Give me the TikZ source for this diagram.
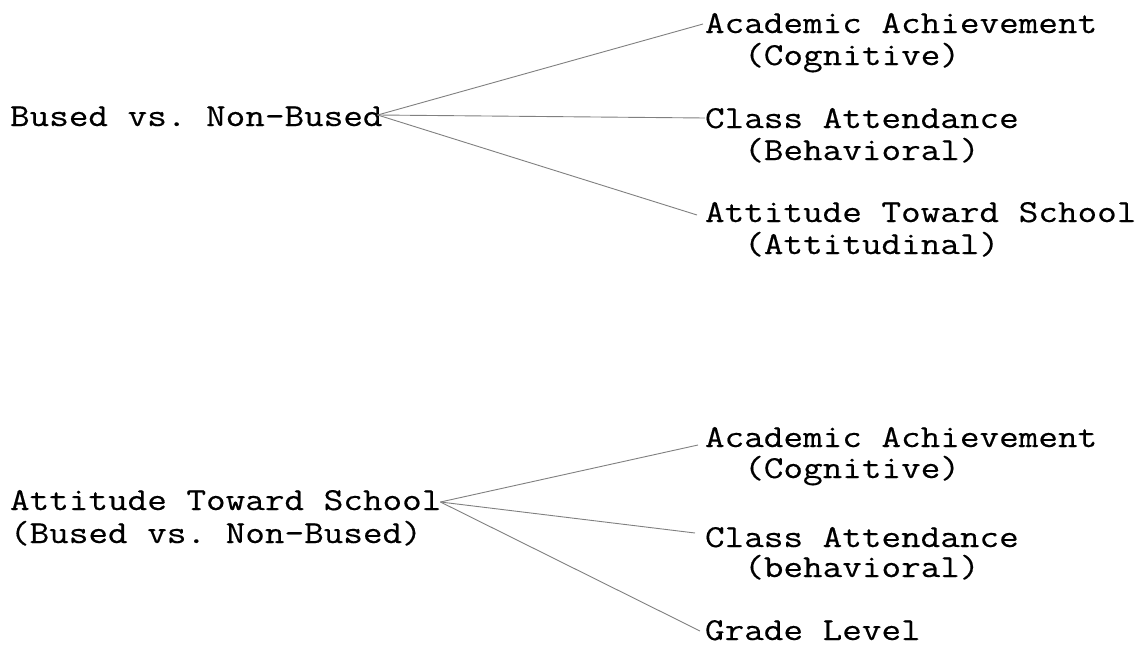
\documentclass[tikz,border=0pt]{standalone}
\usepackage{fontspec}
\setmonofont{Latin Modern Mono}[FakeStretch=1.19,FakeBold=0.4]
\begin{document}
\begin{tikzpicture}[x=0.5pt,y=-0.5pt,
  lbl/.style={anchor=base west,inner sep=0pt,outer sep=0pt,font=\fontsize{16pt}{19pt}\ttfamily},
  conn/.style={draw=black!50,line width=0.45pt}]
\useasboundingbox[fill=white] (0,0) rectangle (1136,648);
% top group
\node[lbl] (L1) at (10,126) {Bused vs. Non-Bused};
\node[lbl] (A1) at (705,33) {Academic Achievement};
\node[lbl] (A1b) at (705,65) {\ \ (Cognitive)};
\node[lbl] (C1) at (705,128) {Class Attendance};
\node[lbl] (C1b) at (705,160) {\ \ (Behavioral)};
\node[lbl] (T1) at (705,222) {Attitude Toward School};
\node[lbl] (T1b) at (705,254) {\ \ (Attitudinal)};
\draw[conn] ([shift={(-2.5pt,5.5pt)}]L1.base east) -- ([shift={(-1pt,4.5pt)}]A1.base west);
\draw[conn] ([shift={(-2.5pt,5.5pt)}]L1.base east) -- ([shift={(0pt,5pt)}]C1.base west);
\draw[conn] ([shift={(-2.5pt,5.5pt)}]L1.base east) -- ([shift={(-4pt,3.5pt)}]T1.base west);
% bottom group
\node[lbl] (L2) at (10,510) {Attitude Toward School};
\node[lbl] (L2b) at (10,543) {(Bused vs. Non-Bused)};
\node[lbl] (A2) at (705,447) {Academic Achievement};
\node[lbl] (A2b) at (705,478) {\ \ (Cognitive)};
\node[lbl] (C2) at (705,547) {Class Attendance};
\node[lbl] (C2b) at (705,577) {\ \ (behavioral)};
\node[lbl] (G2) at (705,640) {Grade Level};
\draw[conn] ([shift={(-0.5pt,4pt)}]L2.base east) -- ([shift={(-3.5pt,1pt)}]A2.base west);
\draw[conn] ([shift={(-0.5pt,4pt)}]L2.base east) -- ([shift={(-5pt,7pt)}]C2.base west);
\draw[conn] ([shift={(-0.5pt,4pt)}]L2.base east) -- ([shift={(-2.5pt,4.5pt)}]G2.base west);
\end{tikzpicture}
\end{document}
